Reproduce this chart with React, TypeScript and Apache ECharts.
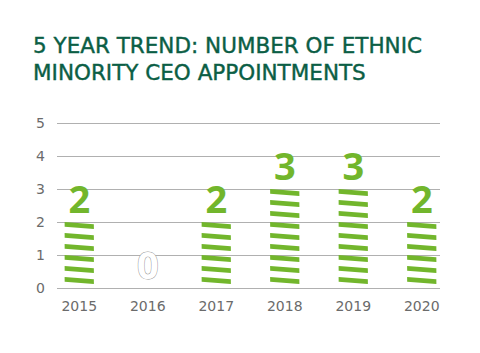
import React, { useEffect, useRef } from "react";
import * as echarts from "echarts";

const titleLines = ["5 YEAR TREND: NUMBER OF ETHNIC", "MINORITY CEO APPOINTMENTS"];
const years = ["2015", "2016", "2017", "2018", "2019", "2020"];
const appointments = [2, 0, 2, 3, 3, 2];
const yTicks = [0, 1, 2, 3, 4, 5];

const GREEN = "#72b62c";
const TITLE = "#0b5e45";
const GREY_TEXT = "#6b6b6b";

export default function App() {
  const ref = useRef<HTMLDivElement>(null);
  useEffect(() => {
    if (!ref.current) return;
    const chart = echarts.init(ref.current, undefined, { renderer: "svg" });
    const dash = "path://M0,0 L28,2.3 L28,7.3 L0,5 Z";
    chart.setOption({
      animation: false,
      title: {
        text: titleLines.join("\n"),
        left: 20,
        top: 19,
        textStyle: {
          fontFamily: "DejaVu Sans",
          fontSize: 21.5,
          fontWeight: "normal",
          color: TITLE,
          lineHeight: 27,
          textBorderColor: TITLE,
          textBorderWidth: 0.4,
        },
      },
      grid: [
        { left: 49, right: 32, top: 115, bottom: 57 },
        { left: 37, width: 411, top: 115, bottom: 57 },
      ],
      xAxis: [
        { type: "category", gridIndex: 0, data: years, show: false },
        {
          type: "category",
          gridIndex: 1,
          data: years,
          axisLine: { show: false },
          axisTick: { show: false },
          axisLabel: {
            color: GREY_TEXT,
            fontSize: 14,
            fontFamily: "DejaVu Sans",
            margin: 11,
          },
        },
      ],
      yAxis: [
        {
          type: "value",
          gridIndex: 0,
          min: yTicks[0],
          max: yTicks[yTicks.length - 1],
          interval: 1,
          axisLine: { show: false },
          axisTick: { show: false },
          axisLabel: { color: GREY_TEXT, fontSize: 14, fontFamily: "DejaVu Sans", margin: 12 },
          splitLine: { lineStyle: { color: "#b0b0b0", width: 1 } },
        },
        { type: "value", gridIndex: 1, min: 0, max: 5, show: false },
      ],
      series: [
        {
          type: "pictorialBar",
          xAxisIndex: 1,
          yAxisIndex: 1,
          data: appointments.map((v) =>
            v === 0
              ? {
                  value: v,
                  label: {
                    color: "#ffffff",
                    textBorderColor: "#9a9a9a",
                    textBorderWidth: 1,
                    fontWeight: "bold",
                  },
                }
              : v
          ),
          symbol: dash,
          symbolSize: [29, 7.3],
          symbolRepeat: true,
          symbolMargin: "2!",
          symbolOffset: [0, -2],
          itemStyle: { color: GREEN },
          label: {
            show: true,
            position: "top",
            distance: 3,
            formatter: "{c}",
            fontSize: 38,
            fontWeight: "bold",
            fontFamily: "Noto Sans",
            color: GREEN,
          },
        },
      ],
    });
    return () => chart.dispose();
  }, []);
  return <div ref={ref} style={{ width: 464, height: 337 }} />;
}
